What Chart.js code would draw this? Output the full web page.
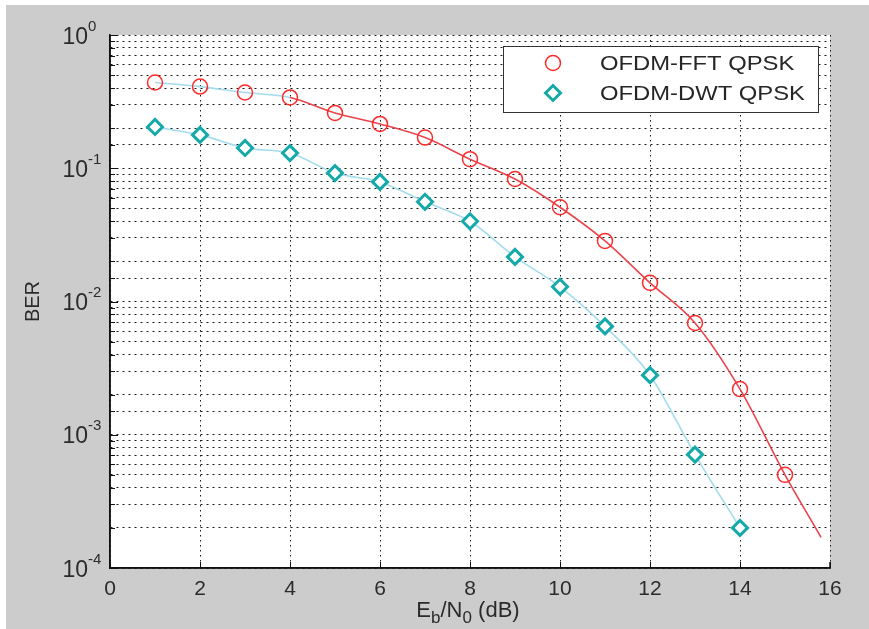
<!DOCTYPE html>
<html>
<head>
<meta charset="utf-8">
<title>BER OFDM-FFT / OFDM-DWT</title>
<script src="https://cdn.jsdelivr.net/npm/chart.js@4/dist/chart.umd.min.js"></script>
<style>
  html, body { margin: 0; padding: 0; background: #ffffff; }
  #wrap { width: 869px; height: 629px; }
</style>
</head>
<body>
<div id="wrap"><canvas id="berChart" width="869" height="629"></canvas></div>
<script>
// Eb/N0 (dB) points
const ebn0 = [1, 2, 3, 4, 5, 6, 7, 8, 9, 10, 11, 12, 13, 14, 15];

// BER, OFDM with FFT
const berFft = [0.44, 0.41, 0.37, 0.34, 0.26, 0.215, 0.17, 0.117, 0.083, 0.051, 0.0285, 0.0138, 0.0069, 0.0022, 0.00050];
// BER, OFDM with DWT
const berDwt = [0.204, 0.178, 0.142, 0.130, 0.092, 0.079, 0.056, 0.040, 0.0216, 0.0129, 0.0065, 0.0028, 0.00071, 0.00020];

// the FFT fitted curve runs on a little past the last point
const fftTailX = [15.8];
const fftTailBer = [0.00017];

const xTicks = [0, 2, 4, 6, 8, 10, 12, 14, 16];
const yDecades = [0, -1, -2, -3, -4];

const seriesNames = ['OFDM-FFT QPSK', 'OFDM-DWT QPSK'];

const RED = '#ff2b2b';
const RED_LINE = '#ea454c';
const TEAL = '#16a9a9';
const LIGHT_BLUE = '#a3dcec';
const FONT = '"Liberation Sans", Arial, sans-serif';

const toPoints = (xs, ys) => xs.map((x, i) => ({ x: x, y: ys[i] }));

// extras: backgrounds, axis lines, inner ticks, log labels, x title, legend
const decorations = {
    id: 'decorations',
    beforeDraw(chart) {
        const { ctx, chartArea: a } = chart;
        ctx.save();
        ctx.fillStyle = '#ffffff';
        ctx.fillRect(0, 0, chart.width, chart.height);
        ctx.fillStyle = '#cccccc';
        ctx.fillRect(6, 5, chart.width - 6, chart.height - 5);
        ctx.fillStyle = '#ffffff';
        ctx.fillRect(a.left, a.top, a.right - a.left, a.bottom - a.top);
        ctx.restore();
    },
    afterDatasetsDraw(chart) {
        const { ctx, chartArea: a, scales } = chart;
        const xs = scales.x, ys = scales.y;
        ctx.save();
        ctx.setLineDash([]);

        // solid left and bottom axis lines
        ctx.strokeStyle = '#111111';
        ctx.lineWidth = 1.5;
        ctx.beginPath();
        ctx.moveTo(a.left, a.top);
        ctx.lineTo(a.left, a.bottom);
        ctx.lineTo(a.right, a.bottom);
        ctx.lineTo(a.right, a.bottom - 6);
        ctx.stroke();

        // tick marks pointing into the plot
        ctx.lineWidth = 1;
        ctx.beginPath();
        ys.ticks.forEach(t => {
            const py = Math.round(ys.getPixelForValue(t.value)) + 0.5;
            const len = t.major ? 8 : 5;
            ctx.moveTo(a.left, py);
            ctx.lineTo(a.left + len, py);
        });
        xs.ticks.forEach(t => {
            const px = Math.round(xs.getPixelForValue(t.value)) + 0.5;
            ctx.moveTo(px, a.bottom);
            ctx.lineTo(px, a.bottom - 6);
        });
        ctx.stroke();

        // y labels as 10^n
        ctx.fillStyle = '#2b2b2b';
        ctx.textBaseline = 'alphabetic';
        yDecades.forEach(n => {
            const py = ys.getPixelForValue(Math.pow(10, n));
            ctx.font = '23px ' + FONT;
            ctx.textAlign = 'right';
            ctx.fillText('10', 88, py + 8.5);
            ctx.font = '15px ' + FONT;
            ctx.textAlign = 'left';
            ctx.fillText(String(n), 88, py - 4.5);
        });

        // x title: Eb/N0 (dB) with subscripts
        const parts = [
            { t: 'E', size: 22, dy: 0 },
            { t: 'b', size: 17, dy: 6 },
            { t: '/N', size: 22, dy: 0 },
            { t: '0', size: 17, dy: 6 },
            { t: ' (dB)', size: 22, dy: 0 }
        ];
        let total = 0;
        parts.forEach(p => { ctx.font = p.size + 'px ' + FONT; p.w = ctx.measureText(p.t).width; total += p.w; });
        let cx = (a.left + a.right) / 2 - 2 - total / 2;
        ctx.textAlign = 'left';
        parts.forEach(p => {
            ctx.font = p.size + 'px ' + FONT;
            ctx.fillText(p.t, cx, 617 + p.dy);
            cx += p.w;
        });

        // legend
        const box = { x: 503.5, y: 46.5, w: 315, h: 66 };
        ctx.fillStyle = '#ffffff';
        ctx.fillRect(box.x, box.y, box.w, box.h);
        ctx.strokeStyle = '#333333';
        ctx.lineWidth = 1;
        ctx.strokeRect(box.x, box.y, box.w, box.h);

        const rows = [63, 93];
        // circle
        ctx.strokeStyle = RED;
        ctx.lineWidth = 1.5;
        ctx.beginPath();
        ctx.arc(553, rows[0], 7.5, 0, Math.PI * 2);
        ctx.stroke();
        // diamond
        ctx.strokeStyle = TEAL;
        ctx.lineWidth = 3;
        ctx.beginPath();
        ctx.moveTo(553, rows[1] - 7.5);
        ctx.lineTo(560.5, rows[1]);
        ctx.lineTo(553, rows[1] + 7.5);
        ctx.lineTo(545.5, rows[1]);
        ctx.closePath();
        ctx.stroke();

        ctx.fillStyle = '#262626';
        ctx.font = '20px ' + FONT;
        ctx.textBaseline = 'middle';
        seriesNames.forEach((name, i) => {
            ctx.save();
            ctx.translate(600, rows[i] + 1);
            ctx.scale(1.19, 1);
            ctx.fillText(name, 0, 0);
            ctx.restore();
        });
        ctx.restore();
    }
};

new Chart(document.getElementById('berChart'), {
    type: 'scatter',
    data: {
        datasets: [
            {
                label: seriesNames[0],
                data: toPoints(ebn0, berFft),
                showLine: false,
                pointStyle: 'circle',
                pointRadius: 7.5,
                pointBorderWidth: 1.5,
                pointBorderColor: RED,
                pointBackgroundColor: 'rgba(0,0,0,0)'
            },
            {
                label: seriesNames[1],
                data: toPoints(ebn0.slice(0, berDwt.length), berDwt),
                showLine: false,
                pointStyle: 'rectRot',
                pointRadius: 7.5,
                pointBorderWidth: 3,
                pointBorderColor: TEAL,
                pointBackgroundColor: '#ffffff'
            },
            {
                label: 'fit FFT',
                data: toPoints(ebn0.concat(fftTailX), berFft.concat(fftTailBer)),
                showLine: true,
                pointRadius: 0,
                borderWidth: 1.6,
                borderColor: RED_LINE,
                cubicInterpolationMode: 'monotone',
                segment: {
                    borderColor: c => c.p0.parsed.x < 4 ? LIGHT_BLUE : RED_LINE
                }
            },
            {
                label: 'fit DWT',
                data: toPoints(ebn0.slice(0, berDwt.length), berDwt),
                showLine: true,
                pointRadius: 0,
                borderWidth: 1.6,
                borderColor: LIGHT_BLUE,
                cubicInterpolationMode: 'monotone'
            }
        ]
    },
    options: {
        responsive: false,
        animation: false,
        events: [],
        layout: { padding: { left: 0, top: 35, right: 39, bottom: 0 } },
        plugins: {
            legend: { display: false },
            tooltip: { enabled: false },
            title: { display: false }
        },
        scales: {
            x: {
                type: 'linear',
                min: 0,
                max: 16,
                afterBuildTicks: s => { s.ticks = xTicks.map(v => ({ value: v })); },
                afterFit: s => { s.height = 61; },
                grid: { color: '#1a1a1a', lineWidth: 1, drawTicks: false },
                border: { display: true, color: '#111111', width: 1.5, dash: [1.5, 3.5] },
                ticks: {
                    autoSkip: false,
                    padding: 9,
                    color: '#2b2b2b',
                    font: { family: FONT, size: 21 },
                    maxRotation: 0
                }
            },
            y: {
                type: 'logarithmic',
                min: 1e-4,
                max: 1,
                afterFit: s => { s.width = 110; },
                grid: { color: '#1a1a1a', lineWidth: 1, drawTicks: false },
                border: { display: true, color: '#111111', width: 1.5, dash: [2, 4] },
                ticks: { display: false },
                title: {
                    display: true,
                    text: 'BER',
                    color: '#2b2b2b',
                    font: { family: FONT, size: 20 },
                    padding: { top: 21, bottom: 0 }
                }
            }
        }
    },
    plugins: [decorations]
});
</script>
</body>
</html>
